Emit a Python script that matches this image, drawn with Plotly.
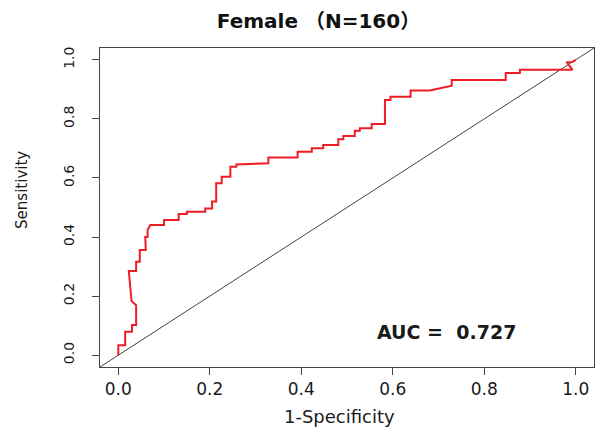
import plotly.graph_objects as go

# ROC curve vertices (1-specificity, sensitivity)
fpr = [0.000, 0.000, 0.015, 0.015, 0.030, 0.030, 0.039, 0.039, 0.029, 0.027,
       0.023, 0.039, 0.039, 0.047, 0.047, 0.060, 0.060, 0.059, 0.064, 0.064,
       0.070, 0.100, 0.100, 0.132, 0.132, 0.150, 0.150, 0.190, 0.190, 0.205,
       0.205, 0.214, 0.214, 0.226, 0.226, 0.245, 0.245, 0.258, 0.258, 0.328,
       0.328, 0.392, 0.392, 0.423, 0.423, 0.448, 0.448, 0.481, 0.481, 0.492,
       0.492, 0.517, 0.517, 0.528, 0.528, 0.554, 0.554, 0.583, 0.583, 0.595,
       0.595, 0.639, 0.639, 0.681, 0.729, 0.729, 0.847, 0.847, 0.878, 0.878,
       0.993, 0.980, 0.993, 1.000]
tpr = [0.000, 0.034, 0.034, 0.079, 0.079, 0.102, 0.102, 0.169, 0.183, 0.210,
       0.285, 0.285, 0.316, 0.316, 0.356, 0.356, 0.390, 0.400, 0.400, 0.424,
       0.441, 0.441, 0.458, 0.458, 0.478, 0.478, 0.486, 0.486, 0.497, 0.497,
       0.520, 0.520, 0.582, 0.582, 0.604, 0.604, 0.638, 0.638, 0.646, 0.650,
       0.669, 0.669, 0.689, 0.689, 0.701, 0.701, 0.712, 0.712, 0.731, 0.731,
       0.742, 0.742, 0.760, 0.760, 0.768, 0.768, 0.783, 0.783, 0.864, 0.864,
       0.875, 0.875, 0.896, 0.896, 0.912, 0.932, 0.932, 0.955, 0.955, 0.966,
       0.966, 0.992, 0.993, 1.000]

tick_vals = [0.0, 0.2, 0.4, 0.6, 0.8, 1.0]
tick_text = ["0.0", "0.2", "0.4", "0.6", "0.8", "1.0"]
auc = 0.727
title_text = "Female （N=160）"
x_title = "1-Specificity"
y_title = "Sensitivity"

font_fam = "DejaVu Sans, Noto Sans CJK SC, sans-serif"
ink = "#1a1a1a"

fig = go.Figure()

# chance diagonal spanning the full plot region
fig.add_trace(go.Scatter(
    x=[-0.04, 1.04], y=[-0.04, 1.04], mode="lines",
    line=dict(color="#444444", width=1), hoverinfo="skip", showlegend=False,
))

fig.add_trace(go.Scatter(
    x=fpr, y=tpr, mode="lines",
    line=dict(color="#ee1c25", width=2), showlegend=False,
))

fig.add_annotation(
    x=0.718, y=0.079, xref="x", yref="y",
    text=f"<b>AUC =  {auc:.3f}</b>", showarrow=False,
    font=dict(family=font_fam, size=19, color=ink),
)

# axis titles
fig.add_annotation(
    x=0.484, y=-0.154, xref="paper", yref="paper",
    text=x_title, showarrow=False, xanchor="center", yanchor="middle",
    font=dict(family=font_fam, size=18, color=ink),
)
fig.add_annotation(
    x=-0.158, y=0.555, xref="paper", yref="paper",
    text=y_title, showarrow=False, textangle=-90,
    xanchor="center", yanchor="middle",
    font=dict(family=font_fam, size=15, color=ink),
)

fig.update_layout(
    width=599, height=430,
    margin=dict(l=100, r=5, t=48, b=63),
    paper_bgcolor="white", plot_bgcolor="white",
    font=dict(family=font_fam, color=ink),
    title=dict(
        text=f"<b>{title_text}</b>", x=0.362, xanchor="left",
        y=0.952, yanchor="middle",
        font=dict(family=font_fam, size=20, color="#111111"),
    ),
)

fig.update_xaxes(
    range=[-0.04, 1.04], tickvals=tick_vals, ticktext=tick_text,
    ticks="outside", ticklen=7, tickwidth=1, tickcolor="#444444",
    showline=True, linecolor="#444444", linewidth=1, mirror=True,
    showgrid=False, zeroline=False,
    tickfont=dict(size=17, color=ink),
)
fig.update_yaxes(
    range=[-0.04, 1.04], tickvals=tick_vals, ticktext=tick_text,
    ticks="outside", ticklen=7, tickwidth=1, tickcolor="#444444",
    showline=True, linecolor="#444444", linewidth=1, mirror=True,
    showgrid=False, zeroline=False, tickangle=-90, ticklabelstandoff=12,
    tickfont=dict(size=14, color=ink),
)

fig.write_html("out.html")
